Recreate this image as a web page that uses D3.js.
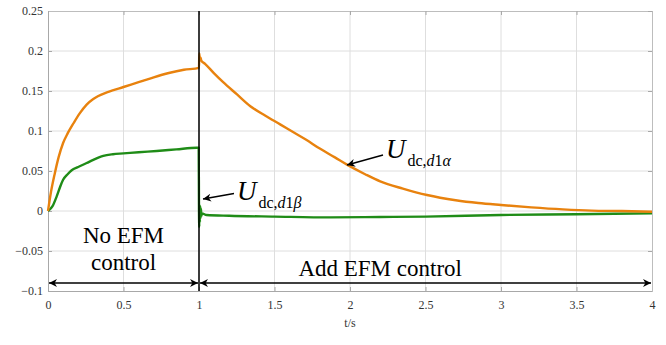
<!DOCTYPE html>
<html>
<head>
<meta charset="utf-8">
<script src="https://cdn.jsdelivr.net/npm/d3@7"></script>
<style>
  body { margin: 0; background: #fff; }
  svg text { font-family: "Liberation Serif", "DejaVu Serif", "Noto Serif", serif; }
</style>
</head>
<body>
<svg id="chart" width="666" height="345"></svg>
<script>
// time axis and the two dc voltage traces
var tAlpha = [0, 0.02, 0.045, 0.07, 0.1, 0.13, 0.17, 0.21, 0.256, 0.3, 0.33, 0.4, 0.5, 0.6, 0.675, 0.75, 0.8, 0.9, 1.0,
  1.002, 1.006, 1.01, 1.015, 1.04, 1.1, 1.16, 1.25, 1.34, 1.44, 1.54, 1.62, 1.71, 1.8, 1.9, 1.98, 2.1, 2.2, 2.35,
  2.51, 2.7, 2.85, 3.0, 3.2, 3.41, 3.6, 3.8, 4.0];
var uAlpha = [0, 0.024, 0.047, 0.067, 0.085, 0.097, 0.11, 0.122, 0.133, 0.14, 0.1435, 0.149, 0.155, 0.161, 0.1655, 0.17, 0.1725, 0.1765, 0.179,
  0.197, 0.188, 0.192, 0.188, 0.184, 0.172, 0.161, 0.146, 0.131, 0.119, 0.108, 0.099, 0.089, 0.078, 0.067, 0.058, 0.046, 0.037, 0.028,
  0.02, 0.0135, 0.01, 0.0075, 0.0045, 0.002, 0.0005, 0, -0.001];

var tBeta = [0, 0.03, 0.057, 0.08, 0.1, 0.13, 0.157, 0.2, 0.256, 0.3, 0.366, 0.43, 0.5, 0.6, 0.72, 0.85, 0.985, 0.998,
  1.0, 1.002, 1.004, 1.006, 1.008, 1.01, 1.013, 1.016, 1.02, 1.05, 1.2, 1.5, 1.87, 2.2, 2.5, 3.0, 3.5, 4.0];
var uBeta = [0, 0.006, 0.018, 0.03, 0.039, 0.046, 0.051, 0.055, 0.06, 0.064, 0.069, 0.071, 0.072, 0.0735, 0.075, 0.077, 0.079, 0.079,
  0.0, -0.02, 0.008, -0.014, 0.006, -0.009, 0.003, -0.006, -0.003, -0.005, -0.006, -0.007, -0.008, -0.0075, -0.007, -0.005, -0.004, -0.003];

var xTicks = [0, 0.5, 1, 1.5, 2, 2.5, 3, 3.5, 4];
var yTicks = [-0.1, -0.05, 0, 0.05, 0.1, 0.15, 0.2, 0.25];
var switchTime = 1;

var serif = '"Liberation Serif", "DejaVu Serif", "Noto Serif", serif';
var svg = d3.select('#chart').attr('font-family', serif),
    mLeft = 48, mRight = 652, mTop = 11, mBottom = 291;

var x = d3.scaleLinear().domain([0, 4]).range([mLeft, mRight]);
var y = d3.scaleLinear().domain([-0.1, 0.25]).range([mBottom, mTop]);

var defs = svg.append('defs');
defs.append('marker')
    .attr('id', 'head')
    .attr('viewBox', '0 0 10 10')
    .attr('refX', 10).attr('refY', 5)
    .attr('markerWidth', 11).attr('markerHeight', 8)
    .attr('markerUnits', 'userSpaceOnUse')
    .attr('orient', 'auto-start-reverse')
  .append('path')
    .attr('d', 'M0,0 L10,5 L0,10 L3,5 Z')
    .attr('fill', '#000');

// grid
svg.append('g')
    .selectAll('line')
    .data(xTicks.slice(1, -1))
    .enter().append('line')
    .attr('x1', d => x(d)).attr('x2', d => x(d))
    .attr('y1', mTop).attr('y2', mBottom)
    .attr('stroke', '#dedede');
svg.append('g')
    .selectAll('line')
    .data(yTicks.slice(1, -1))
    .enter().append('line')
    .attr('x1', mLeft).attr('x2', mRight)
    .attr('y1', d => y(d)).attr('y2', d => y(d))
    .attr('stroke', '#dedede');

// axes
svg.append('g')
    .attr('transform', 'translate(0,' + mBottom + ')')
    .call(d3.axisBottom(x).tickValues(xTicks).tickSize(-4).tickPadding(9).tickFormat(d3.format('')))
    .call(g => {
        g.attr('font-family', serif)
        g.select('.domain').attr('stroke', '#a8a8a8')
        g.selectAll('line').attr('stroke', '#a8a8a8')
        g.selectAll('text').attr('font-size', 12).attr('fill', '#333')
    });
svg.append('g')
    .attr('transform', 'translate(' + mLeft + ',0)')
    .call(d3.axisLeft(y).tickValues(yTicks).tickSize(-4).tickPadding(5).tickFormat(d3.format('')))
    .call(g => {
        g.attr('font-family', serif)
        g.select('.domain').attr('stroke', '#a8a8a8')
        g.selectAll('line').attr('stroke', '#a8a8a8')
        g.selectAll('text').attr('font-size', 12).attr('fill', '#333')
    });
svg.append('g')
    .attr('transform', 'translate(0,' + mTop + ')')
    .call(d3.axisTop(x).tickValues(xTicks).tickSize(-4).tickFormat(''))
    .call(g => { g.select('.domain').attr('stroke', '#bdbdbd'); g.selectAll('line').attr('stroke', '#a8a8a8') });
svg.append('g')
    .attr('transform', 'translate(' + mRight + ',0)')
    .call(d3.axisRight(y).tickValues(yTicks).tickSize(-4).tickFormat(''))
    .call(g => { g.select('.domain').attr('stroke', '#bdbdbd'); g.selectAll('line').attr('stroke', '#a8a8a8') });

svg.append('text')
    .attr('x', x(2)).attr('y', 327)
    .attr('text-anchor', 'middle')
    .attr('font-size', 12).attr('fill', '#333')
    .text('t/s');

// traces
var line = d3.line().curve(d3.curveMonotoneX).x(d => x(d[0])).y(d => y(d[1]));
svg.append('path')
    .datum(d3.zip(tBeta, uBeta))
    .attr('d', line)
    .attr('fill', 'none')
    .attr('stroke', '#1f8c17')
    .attr('stroke-width', 2.4)
    .attr('stroke-linejoin', 'round');
svg.append('path')
    .datum(d3.zip(tAlpha, uAlpha))
    .attr('d', line)
    .attr('fill', 'none')
    .attr('stroke', '#e8820e')
    .attr('stroke-width', 2.4)
    .attr('stroke-linejoin', 'round');

// switching instant
svg.append('line')
    .attr('x1', x(switchTime)).attr('x2', x(switchTime))
    .attr('y1', mTop).attr('y2', mBottom)
    .attr('stroke', '#000').attr('stroke-width', 1.5);

// region arrows
var arrowY = 283;
[[0, switchTime], [switchTime, 4]].forEach(r => {
    svg.append('line')
        .attr('x1', x(r[0]) + 1).attr('x2', x(r[1]) - 1)
        .attr('y1', arrowY).attr('y2', arrowY)
        .attr('stroke', '#000').attr('stroke-width', 1.5)
        .attr('marker-start', 'url(#head)')
        .attr('marker-end', 'url(#head)');
});

svg.append('text')
    .attr('x', x(0.5)).attr('y', 243)
    .attr('text-anchor', 'middle').attr('font-size', 23)
    .text('No EFM');
svg.append('text')
    .attr('x', x(0.5)).attr('y', 270)
    .attr('text-anchor', 'middle').attr('font-size', 23)
    .text('control');
svg.append('text')
    .attr('x', x(2.2)).attr('y', 276)
    .attr('text-anchor', 'middle').attr('font-size', 23)
    .text('Add EFM control');

// curve labels
function label(px, py, greek) {
    var t = svg.append('text').attr('x', px).attr('y', py);
    t.append('tspan').attr('font-style', 'italic').attr('font-size', 27).text('U');
    t.append('tspan').attr('font-size', 16).attr('dy', 8).attr('dx', 2).text('dc,');
    t.append('tspan').attr('font-size', 16).attr('font-style', 'italic').text('d');
    t.append('tspan').attr('font-size', 16).text('1');
    t.append('tspan').attr('font-size', 16).attr('font-style', 'italic').text(greek);
}
label(237, 200, 'β');
label(386, 158, 'α');

svg.append('line')
    .attr('x1', 234).attr('y1', 193.5).attr('x2', 203).attr('y2', 199)
    .attr('stroke', '#000').attr('stroke-width', 1.3)
    .attr('marker-end', 'url(#head)');
svg.append('line')
    .attr('x1', 383).attr('y1', 155).attr('x2', 347).attr('y2', 165)
    .attr('stroke', '#000').attr('stroke-width', 1.3)
    .attr('marker-end', 'url(#head)');
</script>
</body>
</html>
